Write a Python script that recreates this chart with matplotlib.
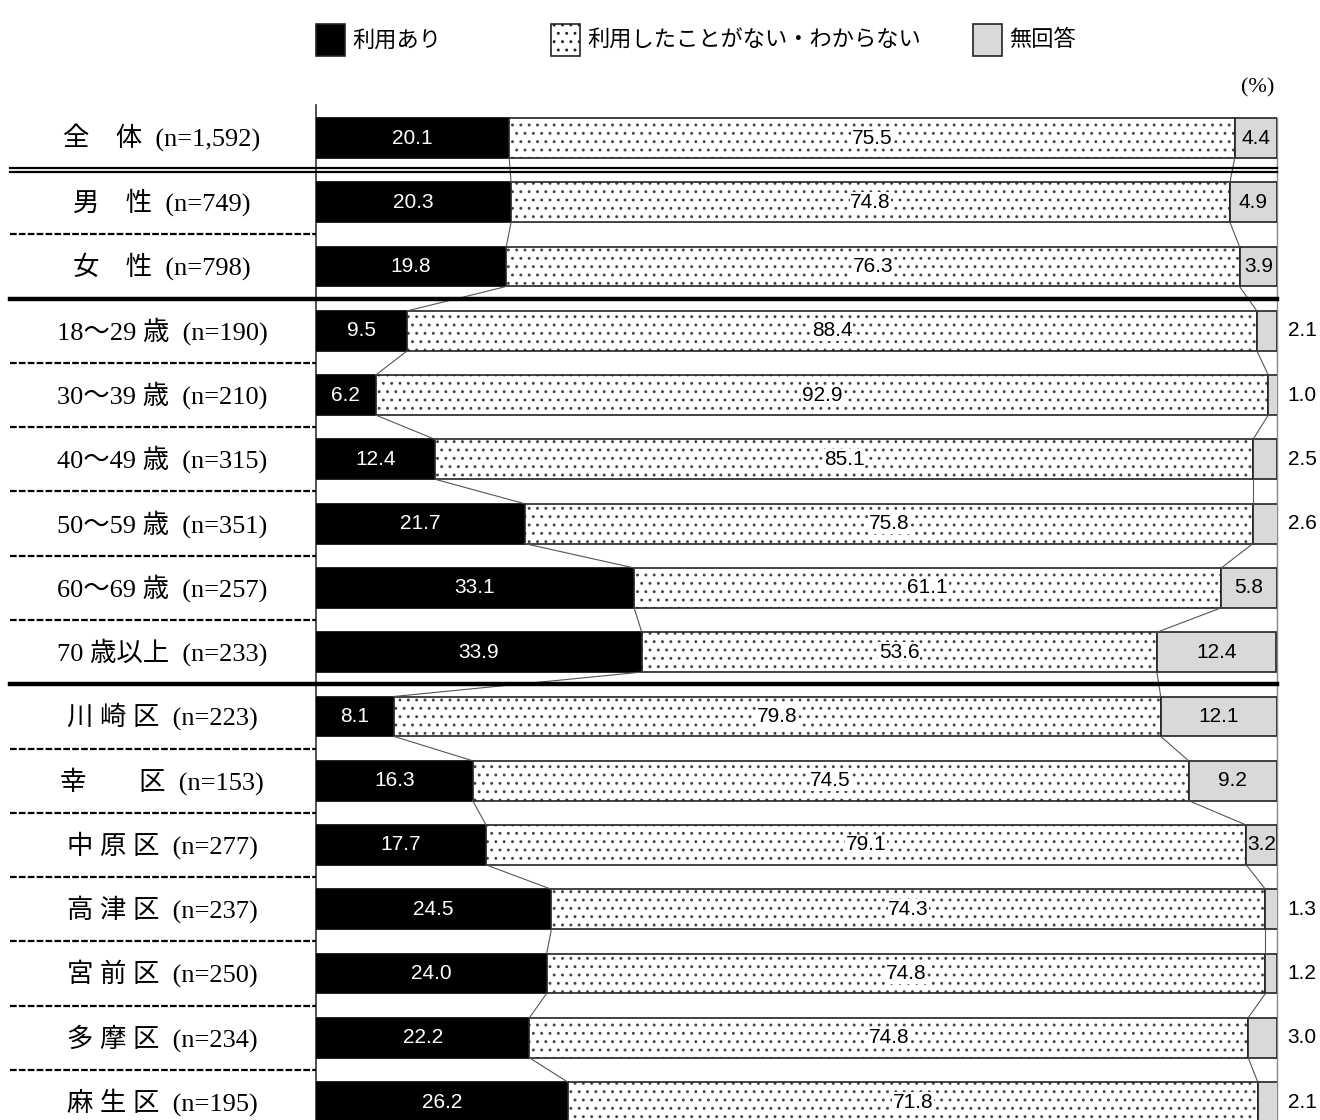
import matplotlib
matplotlib.use("Agg")
import matplotlib.pyplot as plt
from matplotlib.patches import Rectangle
from matplotlib import font_manager

# ---- data ----
categories = [
    "全　体  (n=1,592)",
    "男　性  (n=749)",
    "女　性  (n=798)",
    "18～29 歳  (n=190)",
    "30～39 歳  (n=210)",
    "40～49 歳  (n=315)",
    "50～59 歳  (n=351)",
    "60～69 歳  (n=257)",
    "70 歳以上  (n=233)",
    "川 崎 区  (n=223)",
    "幸　　区  (n=153)",
    "中 原 区  (n=277)",
    "高 津 区  (n=237)",
    "宮 前 区  (n=250)",
    "多 摩 区  (n=234)",
    "麻 生 区  (n=195)",
]
used = [20.1, 20.3, 19.8, 9.5, 6.2, 12.4, 21.7, 33.1, 33.9, 8.1, 16.3, 17.7, 24.5, 24.0, 22.2, 26.2]
never = [75.5, 74.8, 76.3, 88.4, 92.9, 85.1, 75.8, 61.1, 53.6, 79.8, 74.5, 79.1, 74.3, 74.8, 74.8, 71.8]
noans = [4.4, 4.9, 3.9, 2.1, 1.0, 2.5, 2.6, 5.8, 12.4, 12.1, 9.2, 3.2, 1.3, 1.2, 3.0, 2.1]
legend_labels = ["利用あり", "利用したことがない・わからない", "無回答"]

# ---- fonts ----
names = {f.name for f in font_manager.fontManager.ttflist}
jp = "Noto Sans CJK JP"
narrow = "Liberation Sans Narrow" if "Liberation Sans Narrow" in names else "Liberation Sans"
plt.rcParams['font.family'] = [jp, 'DejaVu Sans']
plt.rcParams['hatch.linewidth'] = 0.9

W, H = 1320, 1120
fig = plt.figure(figsize=(W / 100, H / 100), dpi=100)
fig.patch.set_facecolor("white")

x0, x1 = 316, 1277
c0, step = 138, 64.27
ax = fig.add_axes([x0 / W, 0, (x1 - x0) / W, 1])
ax.set_xlim(0, 100)
ax.set_ylim((H - c0) / step, -c0 / step)
ax.axis("off")

n = len(categories)
ys = list(range(n))
bh = 0.62

ax.barh(ys, used, height=bh, color="black", edgecolor="black", linewidth=1.2)
left3 = [a + b for a, b in zip(used, never)]
# dotted fill (hatch in gray) then dark outline
ax.barh(ys, never, left=used, height=bh, color="white", edgecolor="#444444",
        linewidth=0, hatch="..")
ax.barh(ys, never, left=used, height=bh, fill=False, edgecolor="#222222", linewidth=1.2)
ax.barh(ys, noans, left=left3, height=bh, color="#d9d9d9", edgecolor="#222222", linewidth=1.2)

# connecting lines
for i in range(n - 1):
    for cum in (used, left3):
        ax.plot([cum[i], cum[i + 1]], [i + bh / 2, i + 1 - bh / 2], color="#555555",
                lw=0.8, zorder=1)

# axis lines
ax.plot([0, 0], [-0.52, (H - c0) / step], color="#333333", lw=1.2, clip_on=False, zorder=0)
ax.plot([100, 100], [-bh / 2, (H - c0) / step], color="#888888", lw=1.0, clip_on=False, zorder=0)

# value labels
vfs = 15
for i in range(n):
    ax.text(used[i] / 2, i, f"{used[i]:.1f}", ha="center", va="center", color="white",
            fontsize=vfs, family=narrow)
    ax.text(used[i] + never[i] / 2, i, f"{never[i]:.1f}", ha="center", va="center",
            color="black", fontsize=vfs, family=narrow,
            bbox=dict(facecolor="white", edgecolor="none", pad=0.5))
    if noans[i] > 3.05:
        ax.text(left3[i] + noans[i] / 2, i, f"{noans[i]:.1f}", ha="center", va="center",
                color="black", fontsize=vfs, family=narrow)
    else:
        ax.text(102.6, i, f"{noans[i]:.1f}", ha="center", va="center",
                color="black", fontsize=vfs, family=narrow, clip_on=False)

# category labels
tr = ax.get_yaxis_transform()
lab_x = (162 - x0) / (x1 - x0)
for i, c in enumerate(categories):
    ax.text(lab_x, i, c, transform=tr, ha="center", va="center", fontsize=19,
            family=["Liberation Serif", jp, 'DejaVu Sans'], clip_on=False)

# separators
sx = (10 - x0) / (x1 - x0)
# double line after row 0
for d in (-0.035, 0.035):
    ax.plot([sx, 1], [0.5 + d, 0.5 + d], transform=tr, color="black", lw=1.6, clip_on=False)
# thick solid lines
for b in (2.5, 8.5):
    ax.plot([sx, 1], [b, b], transform=tr, color="black", lw=3.2, clip_on=False)
# dashed lines
for b in [1.5, 3.5, 4.5, 5.5, 6.5, 7.5, 9.5, 10.5, 11.5, 12.5, 13.5, 14.5]:
    ax.plot([sx, 0], [b, b], transform=tr, color="black", lw=1.6, ls=(0, (3, 1)),
            clip_on=False)

# legend
def fx(p):
    return p / W

def fy(p):
    return 1 - p / H

boxes = [(316, "black", None), (551, "white", ".."), (973, "#d9d9d9", None)]
for (bx, col, hat), lab in zip(boxes, legend_labels):
    r = Rectangle((fx(bx), fy(56)), 29 / W, 32 / H, transform=fig.transFigure,
                  facecolor=col, edgecolor="#222222", lw=1.2, hatch=hat)
    fig.add_artist(r)
    fig.text(fx(bx + 36), fy(40), lab, ha="left", va="center", fontsize=16)

fig.text(fx(1258), fy(88), "(%)", ha="center", va="center", fontsize=16,
         family=["Liberation Serif", jp])

fig.savefig("out.png", dpi=100)
